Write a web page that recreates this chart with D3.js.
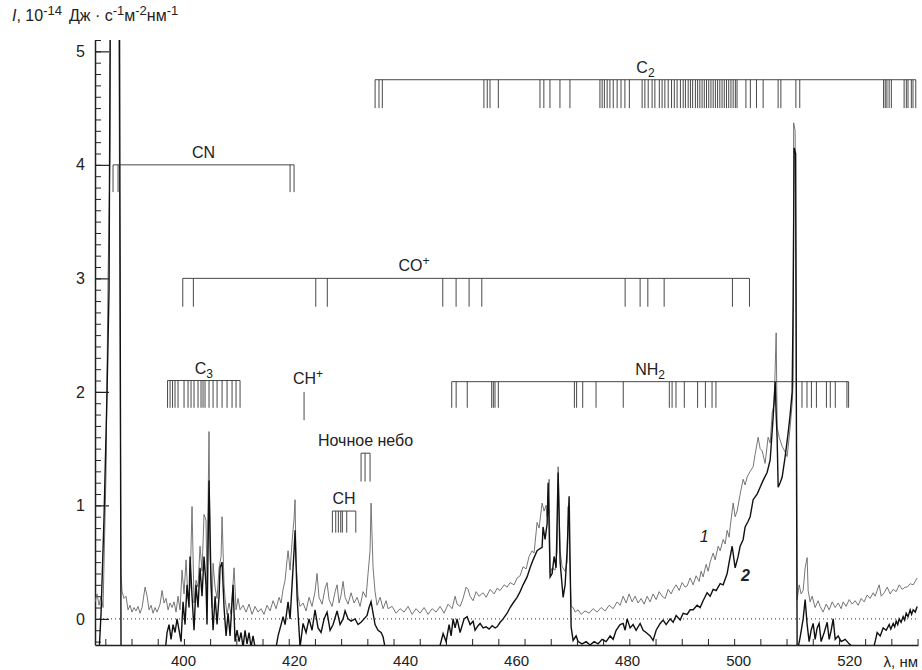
<!DOCTYPE html>
<html>
<head>
<meta charset="utf-8">
<style>
  body { margin: 0; background: #fff; }
  svg text { font-family: "Liberation Sans", Arial, sans-serif; fill: #222; }
</style>
<script src="https://cdn.jsdelivr.net/npm/d3@7"></script>
</head>
<body>
<svg id="chart" width="922" height="670"></svg>
<script>
// x tick labels (nm) and y tick labels
const xLabels = [400, 420, 440, 460, 480, 500, 520]
const yLabels = [0, 1, 2, 3, 4, 5]

// curve 1 (thin grey) [wavelength nm, intensity]
const series1 = [[384.15,0.15],[384.51,0.22],[384.87,0.12],[385.23,0.2],[385.59,0.1],[386.13,1.3],[386.49,3.0],[386.85,4.1],[387.03,7],[388.29,7],[388.65,2.6],[388.83,0.4],[389.01,0.24],[389.37,0.18],[389.73,0.2],[390.09,0.08],[390.45,0.12],[390.81,0.06],[391.17,0.1],[391.53,0.07],[391.89,0.11],[392.26,0.05],[392.62,0.1],[393.16,0.28],[393.52,0.2],[393.88,0.08],[394.24,0.12],[394.6,0.05],[394.96,0.1],[395.32,0.06],[395.86,0.13],[396.22,0.25],[396.58,0.14],[396.94,0.18],[397.3,0.08],[397.66,0.14],[398.02,0.1],[398.38,0.15],[398.74,0.06],[399.1,0.2],[399.46,0.08],[399.82,0.43],[400.18,0.22],[400.54,0.52],[400.9,0.18],[401.26,0.28],[401.62,0.99],[401.98,0.14],[402.34,0.34],[402.7,0.28],[403.06,0.64],[403.42,0.42],[403.78,0.92],[404.14,0.87],[404.32,0.3],[404.68,1.65],[404.87,0.55],[405.23,0.1],[405.41,0.49],[405.77,0.28],[406.13,0.18],[406.49,0.45],[406.85,0.55],[407.03,0.9],[407.39,0.3],[407.57,0.18],[407.93,0.04],[408.29,0.14],[408.65,0.04],[409.19,0.45],[409.55,0.08],[409.91,0.18],[410.27,0.08],[410.81,0.12],[411.35,0.06],[411.89,0.13],[412.43,0.04],[412.97,0.11],[413.51,0.06],[414.05,0.09],[414.59,0.04],[415.13,0.12],[415.68,0.07],[416.22,0.16],[416.76,0.09],[417.3,0.19],[417.66,0.14],[418.02,0.26],[418.38,0.34],[418.74,0.52],[418.92,0.6],[419.28,0.43],[419.64,0.68],[420.0,0.88],[420.18,1.05],[420.36,0.5],[420.72,0.2],[421.08,0.11],[421.62,0.14],[422.16,0.07],[422.7,0.19],[423.24,0.11],[423.78,0.24],[424.14,0.4],[424.5,0.19],[425.05,0.13],[425.59,0.27],[425.95,0.32],[426.31,0.17],[426.85,0.11],[427.39,0.24],[427.75,0.3],[428.11,0.14],[428.47,0.21],[428.83,0.33],[429.19,0.19],[429.73,0.13],[430.27,0.23],[430.81,0.14],[431.35,0.19],[431.89,0.11],[432.43,0.24],[432.97,0.19],[433.33,0.4],[433.69,0.6],[433.87,1.02],[434.23,0.45],[434.59,0.24],[434.95,0.12],[435.5,0.19],[436.04,0.09],[436.58,0.16],[436.94,0.09],[437.66,0.11],[438.38,0.05],[439.1,0.09],[439.82,0.06],[440.54,0.11],[441.26,0.04],[441.98,0.09],[442.7,0.05],[443.42,0.1],[444.14,0.04],[444.87,0.09],[445.59,0.06],[446.31,0.11],[447.03,0.05],[447.75,0.13],[448.47,0.09],[449.01,0.2],[449.37,0.13],[449.91,0.11],[450.45,0.18],[450.99,0.28],[451.35,0.26],[451.71,0.2],[452.25,0.16],[452.79,0.24],[453.33,0.2],[454.06,0.23],[454.6,0.19],[455.32,0.26],[456.04,0.22],[456.58,0.27],[457.12,0.25],[457.84,0.3],[458.38,0.28],[458.92,0.32],[459.64,0.3],[460.18,0.36],[460.72,0.38],[461.26,0.46],[461.8,0.44],[462.34,0.55],[462.88,0.6],[463.24,0.58],[463.78,0.85],[464.14,0.8],[464.68,1.02],[465.04,0.95],[465.4,1.0],[465.59,0.9],[465.95,1.23],[466.13,0.4],[466.49,0.45],[467.03,0.43],[467.39,0.6],[467.57,1.34],[467.93,0.6],[468.29,0.46],[468.83,0.42],[469.19,0.5],[469.37,0.99],[469.73,0.4],[469.91,0.11],[470.27,0.1],[470.63,0.06],[471.17,0.08],[471.71,0.04],[472.43,0.07],[473.15,0.05],[473.87,0.09],[474.59,0.06],[475.31,0.1],[476.04,0.07],[476.76,0.12],[477.48,0.09],[478.2,0.15],[478.74,0.12],[479.28,0.2],[479.82,0.14],[480.36,0.22],[480.9,0.15],[481.44,0.2],[481.98,0.14],[482.52,0.18],[483.06,0.13],[483.6,0.2],[484.14,0.15],[484.68,0.22],[485.23,0.17],[485.77,0.24],[486.31,0.2],[486.85,0.18],[487.39,0.26],[487.93,0.22],[488.29,0.26],[488.83,0.3],[489.37,0.25],[489.91,0.32],[490.45,0.28],[490.81,0.29],[491.35,0.36],[491.89,0.3],[492.43,0.38],[492.97,0.33],[493.33,0.42],[493.69,0.37],[494.23,0.48],[494.59,0.42],[494.95,0.5],[495.5,0.58],[495.86,0.52],[496.4,0.64],[496.76,0.6],[497.3,0.7],[497.66,0.66],[498.02,0.78],[498.38,0.72],[498.56,0.81],[499.1,1.02],[499.46,0.9],[499.82,0.95],[500.36,1.1],[500.9,1.23],[501.26,1.18],[501.62,1.25],[502.16,1.3],[502.7,1.34],[503.06,1.45],[503.6,1.6],[503.96,1.5],[504.32,1.48],[504.86,1.37],[505.4,1.6],[505.77,1.55],[506.13,1.81],[506.49,1.9],[506.67,2.2],[506.85,2.52],[507.03,1.69],[507.39,1.6],[507.93,1.52],[508.47,1.47],[508.83,1.43],[509.37,1.69],[509.73,1.9],[509.91,2.08],[510.0,4.37],[510.27,4.3],[510.45,2.5],[510.63,0.17],[510.99,0.3],[511.35,0.22],[511.71,0.25],[512.07,0.45],[512.43,0.54],[512.61,0.25],[512.97,0.15],[513.33,0.2],[513.87,0.1],[514.41,0.16],[514.77,0.11],[515.31,0.06],[515.86,0.13],[516.4,0.08],[516.94,0.15],[517.48,0.1],[518.02,0.14],[518.56,0.09],[518.92,0.15],[519.46,0.11],[520.0,0.17],[520.54,0.13],[521.08,0.16],[521.62,0.12],[522.16,0.18],[522.7,0.15],[523.24,0.21],[523.78,0.18],[524.32,0.23],[524.68,0.2],[525.04,0.25],[525.41,0.3],[525.77,0.2],[526.31,0.23],[526.85,0.28],[527.39,0.22],[527.93,0.26],[528.47,0.24],[529.01,0.3],[529.55,0.26],[530.09,0.28],[530.45,0.28],[530.99,0.31],[531.53,0.3],[532.25,0.36]]

// curve 2 (black) [wavelength nm, intensity]
const series2 = [[384.15,-0.3],[384.87,-0.3],[385.23,0.05],[385.77,0.9],[386.31,2.0],[386.67,2.9],[387.03,7],[388.47,7],[388.83,-0.3],[392.26,-0.3],[396.76,-0.3],[397.12,-0.12],[397.48,-0.05],[397.84,-0.18],[398.2,-0.05],[398.56,-0.12],[398.92,0.0],[399.28,-0.1],[399.64,-0.2],[400.0,0.15],[400.36,-0.05],[400.72,0.3],[401.08,0.1],[401.26,0.55],[401.62,0.2],[401.98,-0.1],[402.34,0.3],[402.7,0.1],[403.06,0.45],[403.42,0.2],[403.78,0.55],[404.14,0.3],[404.32,-0.05],[404.68,1.22],[405.05,0.3],[405.41,-0.1],[405.77,0.2],[406.13,-0.05],[406.49,0.2],[406.67,0.45],[407.03,0.5],[407.39,0.1],[407.75,-0.15],[408.11,0.05],[408.47,-0.15],[409.01,0.3],[409.37,-0.2],[409.73,-0.1],[410.09,-0.2],[410.45,-0.12],[410.81,-0.25],[411.17,-0.1],[411.53,-0.22],[411.89,-0.12],[412.25,-0.25],[412.61,-0.15],[413.15,-0.3],[416.58,-0.3],[417.12,-0.15],[417.66,-0.05],[418.02,0.02],[418.38,-0.05],[418.92,0.15],[419.28,0.0],[419.64,0.3],[420.0,0.6],[420.18,0.78],[420.54,0.2],[421.08,-0.25],[421.62,-0.04],[422.16,-0.12],[422.7,0.0],[423.24,-0.1],[423.78,0.08],[424.32,-0.08],[424.87,-0.12],[425.41,0.0],[425.95,0.06],[426.49,-0.1],[427.03,-0.05],[427.75,0.07],[428.29,-0.05],[428.83,0.0],[429.19,0.07],[429.73,0.0],[430.27,-0.02],[430.99,0.0],[431.53,-0.05],[432.07,-0.03],[432.61,0.0],[433.15,0.03],[433.51,0.1],[433.87,0.15],[434.23,0.05],[434.59,-0.05],[435.13,-0.1],[435.68,-0.12],[436.04,-0.16],[436.58,-0.3],[445.95,-0.3],[446.85,-0.13],[447.39,-0.2],[447.93,-0.05],[448.29,-0.15],[448.65,0.0],[449.01,-0.08],[449.37,0.0],[449.91,-0.12],[450.63,0.0],[451.17,0.02],[451.71,-0.05],[452.25,-0.02],[452.61,-0.1],[453.15,-0.06],[453.51,-0.04],[454.06,-0.08],[454.6,-0.07],[455.14,-0.09],[455.68,-0.06],[456.22,-0.08],[456.58,-0.07],[457.12,-0.03],[457.66,0.0],[458.38,0.05],[458.92,0.1],[459.46,0.14],[460.18,0.19],[460.72,0.24],[461.26,0.3],[461.98,0.37],[462.52,0.45],[463.06,0.52],[463.78,0.6],[464.32,0.62],[464.68,0.63],[464.86,0.81],[465.22,0.7],[465.59,0.84],[465.77,1.2],[465.95,0.8],[466.13,0.37],[466.49,0.4],[466.85,0.55],[467.21,0.45],[467.57,1.29],[467.93,0.5],[468.47,0.19],[468.83,0.3],[469.19,0.6],[469.55,1.08],[469.73,0.5],[469.91,-0.07],[470.27,-0.19],[470.81,-0.15],[471.17,-0.2],[471.89,-0.22],[472.61,-0.2],[473.33,-0.23],[474.05,-0.2],[474.77,-0.22],[475.49,-0.18],[476.22,-0.2],[476.94,-0.15],[477.48,-0.18],[478.02,-0.1],[478.74,-0.05],[479.28,-0.04],[479.64,-0.1],[480.0,0.0],[480.54,-0.08],[481.08,-0.05],[481.62,-0.1],[482.34,-0.04],[482.88,-0.1],[483.42,-0.12],[484.14,-0.15],[484.68,-0.19],[485.23,-0.1],[485.95,-0.04],[486.49,-0.01],[487.03,-0.05],[487.75,0.0],[488.29,-0.03],[488.83,0.03],[489.55,-0.01],[490.09,0.05],[490.81,0.04],[491.35,0.08],[491.89,0.08],[492.61,0.12],[493.15,0.1],[493.69,0.16],[494.41,0.23],[494.95,0.2],[495.5,0.26],[496.04,0.25],[496.76,0.31],[497.3,0.3],[498.02,0.4],[498.38,0.5],[498.92,0.64],[499.46,0.45],[500.0,0.55],[500.36,0.64],[500.9,0.7],[501.26,0.81],[501.8,0.86],[502.16,0.9],[502.7,1.05],[503.42,1.1],[503.96,1.16],[504.5,1.22],[505.22,1.29],[505.77,1.4],[506.31,1.78],[506.67,2.09],[506.85,1.8],[507.03,1.58],[507.21,1.16],[507.57,1.2],[507.93,1.25],[508.47,1.43],[509.01,1.64],[509.37,1.8],[509.73,2.0],[509.91,2.8],[510.09,4.15],[510.36,4.1],[510.54,1.0],[510.63,-0.3],[511.17,-0.16],[511.71,0.0],[512.07,0.17],[512.43,-0.05],[512.79,-0.2],[513.15,-0.1],[513.51,-0.04],[513.87,-0.18],[514.23,-0.08],[514.59,-0.04],[514.95,-0.2],[515.5,-0.12],[516.04,-0.03],[516.4,-0.18],[516.76,-0.1],[517.12,0.0],[517.48,-0.18],[518.02,-0.15],[518.56,-0.2],[519.28,-0.18],[520.0,-0.22],[520.72,-0.25],[521.98,-0.3],[524.14,-0.3],[524.68,-0.2],[525.04,-0.12],[525.59,-0.15],[526.13,-0.08],[526.67,-0.1],[527.21,-0.05],[527.5,-0.09],[527.93,-0.04],[528.2,-0.07],[528.47,-0.02],[528.75,-0.05],[529.01,0.0],[529.35,-0.03],[529.73,0.02],[530.0,-0.01],[530.27,0.05],[530.6,0.02],[530.99,0.08],[531.25,0.04],[531.53,0.08],[531.9,0.06],[532.25,0.11]]

// molecular band line positions (nm)
const c2Lines = [434.6,435.3,435.9,454.2,454.8,455.3,456.8,464.3,465.0,466.1,467.9,469.7,475.1,475.5,475.9,476.4,476.9,477.5,478.2,478.9,479.6,480.4,482.7,483.2,483.8,484.5,485.0,485.8,486.3,486.8,487.4,488.0,488.5,489.0,489.6,490.1,490.5,491.0,491.4,491.8,492.3,492.7,493.1,493.5,493.9,494.3,494.7,495.1,495.5,495.9,496.3,496.7,497.1,497.5,497.9,498.3,498.7,499.1,499.5,499.8,501.4,502.2,503.3,504.5,507.2,507.7,510.4,511.1,526.2,526.5,526.8,527.2,527.6,529.9,530.3,530.6,531.2,531.5,532.0]
const cnLines = [387.39, 388.29, 419.28, 420.0]
const coLines = [399.95,401.86,423.91,425.99,446.79,449.19,451.53,453.82,479.64,482.34,483.73,486.67,498.97,502.04]
const c3Lines = [397.21,397.66,398.11,398.56,399.1,400.18,400.9,401.44,401.98,402.7,403.24,403.6,403.96,404.68,405.41,406.13,407.03,407.93,408.83,409.55,410.27]
const chpLines = [421.8]
const skyLines = [432.07, 432.79, 433.69]
const chLines = [426.9,427.51,427.98,428.41,428.7,429.49,431.12]
const nh2Lines = [448.4,449.2,451.2,455.6,455.9,456.2,456.8,470.5,470.9,472.0,474.4,479.3,487.6,488.1,488.8,490.3,492.7,494.1,495.3,496.0,511.5,512.4,513.2,514.1,515.9,516.6,517.5,519.6,519.9]

const plotLeft = 95, plotRight = 918, plotTop = 40, plotBottom = 645

const x = d3.scaleLinear().domain([384.14, 532.4]).range([plotLeft, plotRight])
const y = d3.scaleLinear().domain([-0.23, 5.1]).range([plotBottom, plotTop])

const svg = d3.select('#chart')

svg.append('clipPath').attr('id', 'plot')
  .append('rect')
  .attr('x', plotLeft).attr('y', plotTop)
  .attr('width', plotRight - plotLeft).attr('height', plotBottom - plotTop)

// y axis: major + minor inward ticks
svg.append('g')
  .attr('transform', 'translate(' + plotLeft + ',0)')
  .call(d3.axisLeft(y).tickValues(d3.range(-0.2, 5.15, 0.1)).tickSize(-6).tickSizeOuter(0).tickFormat(''))
  .call(g => g.select('.domain').remove())
  .call(g => g.selectAll('line').attr('stroke', '#222'))

svg.append('g')
  .attr('transform', 'translate(' + plotLeft + ',0)')
  .call(d3.axisLeft(y).tickValues(yLabels).tickSize(-14).tickSizeOuter(0).tickPadding(10).tickFormat(d3.format('d')))
  .call(g => g.select('.domain').attr('stroke', '#222').attr('stroke-width', 1.5))
  .call(g => g.selectAll('line').attr('stroke', '#222').attr('stroke-width', 1.2))
  .call(g => g.selectAll('text').attr('font-size', 16).attr('fill', '#222').attr('font-family', '"Liberation Sans", Arial, sans-serif'))

// x axis
svg.append('g')
  .attr('transform', 'translate(0,' + plotBottom + ')')
  .call(d3.axisBottom(x).tickValues(d3.range(386.0, 532.5, 4.72)).tickSize(-6).tickSizeOuter(0).tickFormat(''))
  .call(g => g.select('.domain').attr('stroke', '#222').attr('stroke-width', 1.5))
  .call(g => g.selectAll('line').attr('stroke', '#222'))

svg.append('g')
  .attr('transform', 'translate(0,' + plotBottom + ')')
  .call(d3.axisBottom(x).tickValues(xLabels).tickSize(0).tickPadding(10).tickFormat(d3.format('d')))
  .call(g => g.select('.domain').remove())
  .call(g => g.selectAll('text').attr('font-size', 15).attr('fill', '#222').attr('font-family', '"Liberation Sans", Arial, sans-serif'))

svg.append('text')
  .attr('x', plotRight).attr('y', plotBottom + 22)
  .attr('text-anchor', 'end').attr('font-size', 15)
  .text('λ, нм')

// axis title with superscripts
const title = svg.append('text').attr('x', 12).attr('y', 21).attr('font-size', 16)
title.append('tspan').attr('font-style', 'italic').text('I')
title.append('tspan').text(', 10')
title.append('tspan').attr('dy', -6).attr('font-size', 13).text('-14')
title.append('tspan').attr('dy', 6).attr('dx', 7).text('Дж · с')
title.append('tspan').attr('dy', -6).attr('font-size', 13).text('-1')
title.append('tspan').attr('dy', 6).text('м')
title.append('tspan').attr('dy', -6).attr('font-size', 13).text('-2')
title.append('tspan').attr('dy', 6).text('нм')
title.append('tspan').attr('dy', -6).attr('font-size', 13).text('-1')

// zero line
svg.append('line')
  .attr('x1', plotLeft).attr('x2', plotRight)
  .attr('y1', y(0)).attr('y2', y(0))
  .attr('stroke', '#333').attr('stroke-width', 1)
  .attr('stroke-dasharray', '1,3')

// spectra
const line = d3.line().x(d => x(d[0])).y(d => y(d[1]))
const plot = svg.append('g').attr('clip-path', 'url(#plot)')

plot.append('path').datum(series1)
  .attr('d', line).attr('fill', 'none')
  .attr('stroke', '#666').attr('stroke-width', 0.9)

plot.append('path').datum(series2)
  .attr('d', line).attr('fill', 'none')
  .attr('stroke', '#111').attr('stroke-width', 1.4)

// band markers
const bands = [
  { name: 'C', sub: '2', lines: c2Lines, level: 4.75, len: 0.25 },
  { name: 'CN', lines: cnLines, level: 4.0, len: 0.24 },
  { name: 'CO', sup: '+', lines: coLines, level: 3.0, len: 0.25, labelAt: 440.9 },
  { name: 'C', sub: '3', lines: c3Lines, level: 2.1, len: 0.24 },
  { name: 'NH', sub: '2', lines: nh2Lines, level: 2.09, len: 0.23 },
  { name: 'CH', sup: '+', lines: chpLines, level: 2.0, len: 0.25, noBar: true, labelGap: 8 },
  { name: 'Ночное небо', lines: skyLines, level: 1.46, len: 0.25 },
  { name: 'CH', lines: chLines, level: 0.95, len: 0.19 }
]

bands.forEach(b => {
  const g = svg.append('g').attr('stroke', '#333').attr('stroke-width', 0.9)
  const lo = d3.min(b.lines), hi = d3.max(b.lines)
  if (!b.noBar) {
    g.append('line')
      .attr('x1', x(lo)).attr('x2', x(hi))
      .attr('y1', y(b.level)).attr('y2', y(b.level))
  }
  g.selectAll('line.tick').data(b.lines).enter().append('line')
    .attr('class', 'tick')
    .attr('x1', d => x(d)).attr('x2', d => x(d))
    .attr('y1', y(b.level)).attr('y2', y(b.level - b.len))

  const cx = b.labelAt ? x(b.labelAt) : x((lo + hi) / 2)
  const t = svg.append('text')
    .attr('x', cx + (b.sup ? 4 : 0)).attr('y', y(b.level) - (b.labelGap || 7))
    .attr('text-anchor', 'middle').attr('font-size', 16)
  t.append('tspan').text(b.name)
  if (b.sub) t.append('tspan').attr('dy', 4).attr('font-size', 12).text(b.sub)
  if (b.sup) t.append('tspan').attr('dy', -6).attr('font-size', 12).text(b.sup)
})

// curve numbers
svg.append('text').attr('x', x(493.9)).attr('y', y(0.68))
  .attr('text-anchor', 'middle').attr('font-size', 16).attr('font-style', 'italic').text('1')
svg.append('text').attr('x', x(501.3)).attr('y', y(0.33))
  .attr('text-anchor', 'middle').attr('font-size', 16).attr('font-style', 'italic').attr('font-weight', 'bold').text('2')
</script>
</body>
</html>
